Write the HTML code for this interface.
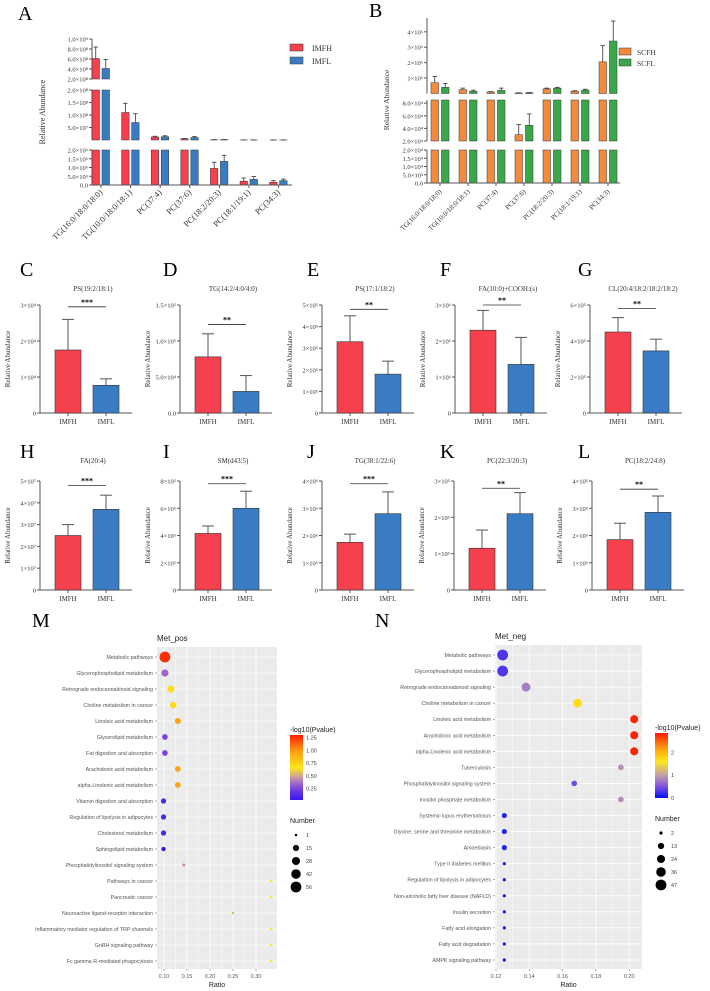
<!DOCTYPE html>
<html><head><meta charset="utf-8">
<style>
html,body{margin:0;padding:0;background:#fff;}
svg{display:block;}
.serif{font-family:"Liberation Serif",serif;}
.sans{font-family:"Liberation Sans",sans-serif;}
</style></head>
<body>
<svg id="fig" width="710" height="991" viewBox="0 0 710 991" xmlns="http://www.w3.org/2000/svg"></svg>
<script>
// ---------- Panel A data ----------
const aCats = ["TG(16:0/18:0/18:0)","TG(10:0/18:0/18:1)","PC(37:4)","PC(37:6)","PC(18:2/20:3)","PC(18:1/19:1)","PC(34:3)"];
const aIMFH = [6.1e8, 1.1e8, 1.2e7, 5e6, 9.5e5, 2.2e5, 1.6e5];
const aIMFHerr = [8.4e8, 1.47e8, 1.5e7, 6e6, 1.3e6, 4.0e5, 2.5e5];
const aIMFL = [4.1e8, 7.0e7, 1.3e7, 1.0e7, 1.35e6, 3.2e5, 2.5e5];
const aIMFLerr = [5.9e8, 1.05e8, 1.7e7, 1.4e7, 1.7e6, 4.8e5, 3.4e5];
const aTopTicks = ["2.0×10⁸","4.0×10⁸","6.0×10⁸","8.0×10⁸","1.0×10⁹"];
const aMidTicks = ["5.0×10⁷","1.0×10⁸","1.5×10⁸","2.0×10⁸"];
const aBotTicks = ["0.0","5.0×10⁵","1.0×10⁶","1.5×10⁶","2.0×10⁶"];
// ---------- Panel B data ----------
const bCats = aCats;
const bSCFH = [7e5, 2.5e5, 1.0e5, 3.0e4, 3.0e5, 1.5e5, 2.05e6];
const bSCFHerr = [1.1e6, 3.5e5, 1.2e5, 4.6e4, 3.5e5, 1.8e5, 3.1e6];
const bSCFL = [4e5, 1.5e5, 2.0e5, 4.5e4, 3.5e5, 2.2e5, 3.4e6];
const bSCFLerr = [6.5e5, 2.2e5, 3.5e5, 6.3e4, 4.0e5, 2.8e5, 4.7e6];
const bTopTicks = ["1×10⁶","2×10⁶","3×10⁶","4×10⁶"];
const bMidTicks = ["2.0×10⁴","4.0×10⁴","6.0×10⁴","8.0×10⁴"];
const bBotTicks = ["0.0","5.0×10³","1.0×10⁴","1.5×10⁴","2.0×10⁴"];
// ---------- Panels C-L data ----------
const smallLetters = ["C","D","E","F","G","H","I","J","K","L"];
const smallTitles = ["PS(19:2/18:1)","TG(14:2/4:0/4:0)","PS(17:1/18:2)","FA(10:0)+COOH:(s)","CL(20:4/18:2/18:2/18:2)","FA(20:4)","SM(d43:5)","TG(38:1/22:6)","PC(22:3/20:3)","PC(18:2/24:8)"];
const smallMax = [3e4,1.5e5,5e5,3e6,6e5,5e7,8e5,4e6,3e5,4e5];
const smallH = [1.75e4,7.8e4,3.3e5,2.3e6,4.5e5,2.5e7,4.15e5,1.75e6,1.15e5,1.85e5];
const smallHerr = [2.6e4,1.1e5,4.5e5,2.85e6,5.3e5,3.0e7,4.7e5,2.05e6,1.65e5,2.45e5];
const smallL = [7.7e3,3.0e4,1.8e5,1.35e6,3.45e5,3.7e7,6.0e5,2.8e6,2.1e5,2.85e5];
const smallLerr = [9.5e3,5.2e4,2.4e5,2.1e6,4.1e5,4.35e7,7.25e5,3.6e6,2.68e5,3.45e5];
const smallSig = ["***","**","**","**","**","***","***","***","**","**"];
const smallSigLevel = [2.95e4,1.23e5,4.8e5,3.0e6,5.8e5,4.8e7,7.8e5,3.9e6,2.8e5,3.7e5];
const smallTicks = [
 ["0","1×10⁴","2×10⁴","3×10⁴"],
 ["0.0","5.0×10⁴","1.0×10⁵","1.5×10⁵"],
 ["0","1×10⁵","2×10⁵","3×10⁵","4×10⁵","5×10⁵"],
 ["0","1×10⁶","2×10⁶","3×10⁶"],
 ["0","2×10⁵","4×10⁵","6×10⁵"],
 ["0","1×10⁷","2×10⁷","3×10⁷","4×10⁷","5×10⁷"],
 ["0","2×10⁵","4×10⁵","6×10⁵","8×10⁵"],
 ["0","1×10⁶","2×10⁶","3×10⁶","4×10⁶"],
 ["0","1×10⁵","2×10⁵","3×10⁵"],
 ["0","1×10⁵","2×10⁵","3×10⁵","4×10⁵"]];
// ---------- Panel M data ----------
const mTerms = ["Metabolic pathways","Glycerophospholipid metabolism","Retrograde endocannabinoid signaling","Choline metabolism in cancer","Linoleic acid metabolism","Glycerolipid metabolism","Fat digestion and absorption","Arachidonic acid metabolism","alpha-Linolenic acid metabolism","Vitamin digestion and absorption","Regulation of lipolysis in adipocytes","Cholesterol metabolism","Sphingolipid metabolism","Phosphatidylinositol signaling system","Pathways in cancer","Pancreatic cancer","Neuroactive ligand-receptor interaction","Inflammatory mediator regulation of TRP channels","GnRH signaling pathway","Fc gamma R-mediated phagocytosis"];
const mRatio = [0.102,0.102,0.115,0.12,0.13,0.102,0.102,0.13,0.13,0.099,0.099,0.099,0.099,0.143,0.333,0.333,0.25,0.333,0.333,0.333];
const mNumber = [56,22,20,17,14,12,12,13,13,10,10,10,6,2,1,1,1,1,1,1];
const mP = [1.25,0.35,0.7,0.72,0.95,0.25,0.25,0.95,0.95,0.12,0.12,0.12,0.02,0.45,0.65,0.65,0.55,0.65,0.65,0.65];
const mXTicks = [0.10,0.15,0.20,0.25,0.30];
const mCbTicks = [0.25,0.50,0.75,1.00,1.25];
const mSizeTicks = [1,15,28,42,56];
// ---------- Panel N data ----------
const nTerms = ["Metabolic pathways","Glycerophospholipid metabolism","Retrograde endocannabinoid signaling","Choline metabolism in cancer","Linoleic acid metabolism","Arachidonic acid metabolism","alpha-Linolenic acid metabolism","Tuberculosis","Phosphatidylinositol signaling system","Inositol phosphate metabolism","Systemic lupus erythematosus","Glycine, serine and threonine metabolism","Amoebiasis","Type II diabetes mellitus","Regulation of lipolysis in adipocytes","Non-alcoholic fatty liver disease (NAFLD)","Insulin secretion","Fatty acid elongation","Fatty acid degradation","AMPK signaling pathway"];
const nRatio = [0.124,0.124,0.138,0.169,0.203,0.203,0.203,0.195,0.167,0.195,0.125,0.125,0.125,0.125,0.125,0.125,0.125,0.125,0.125,0.125];
const nNumber = [47,47,30,30,24,24,24,10,10,10,8,8,8,2,2,2,2,2,2,2];
const nP = [0.3,0.3,0.8,1.7,2.8,2.8,2.8,0.9,0.45,0.9,0.15,0.15,0.15,0.05,0.05,0.05,0.05,0.05,0.05,0.05];
const nXTicks = [0.12,0.14,0.16,0.18,0.20];
const nCbTicks = [0,1,2];
const nSizeTicks = [2,13,24,36,47];

const NS="http://www.w3.org/2000/svg";
const fig=document.getElementById('fig');
function mk(tag, attrs, parent){const e=document.createElementNS(NS,tag);for(const k in attrs)e.setAttribute(k,attrs[k]);(parent||fig).appendChild(e);return e;}
function txt(s, attrs, parent){const e=mk('text',attrs,parent);e.textContent=s;return e;}
const RED="#f5404e", BLUE="#3a7cc3", ORANGE="#f58a3c", GREEN="#3aa84a", AX="#555";

// ===== Panel A =====
(function(){
 const g=mk('g',{});
 
 
 const lab=txt("A",{x:18,y:20,'font-size':20,class:'serif'},g);
 
 
 const ax=92, xEnd=292;
 const segs=[{lo:2e8,hi:1e9,y0:79,y1:39,ticks:aTopTicks,vals:[2e8,4e8,6e8,8e8,1e9]},
             {lo:0,hi:2e8,y0:140,y1:90,ticks:aMidTicks,vals:[5e7,1e8,1.5e8,2e8]},
             {lo:0,hi:2e6,y0:185,y1:150,ticks:aBotTicks,vals:[0,5e5,1e6,1.5e6,2e6]}];
 segs.forEach((s,si)=>{
  const ys=v=>s.y0-(v-s.lo)/(s.hi-s.lo)*(s.y0-s.y1);
  const l=mk('line',{x1:ax,x2:ax,y1:s.y1,y2:s.y0+(si==1?-1:0),stroke:AX,'stroke-width':1},g);
  
  
  s.vals.forEach((v,i)=>{
   mk('line',{x1:ax-3,x2:ax,y1:ys(v),y2:ys(v),stroke:AX},g);
   const t=txt(s.ticks[i],{x:ax-4,y:ys(v)+2.5,'font-size':6.5,'text-anchor':'end',class:'serif',fill:'#333'},g);
   
   
  });
  aCats.forEach((c,i)=>{
   const x0=92+29.6*i;
   [[aIMFH[i],aIMFHerr[i],RED,x0],[aIMFL[i],aIMFLerr[i],BLUE,x0+10]].forEach(([v,e,col,x])=>{
    if(v<=s.lo) return;
    const top=ys(Math.min(v,s.hi));
    const r=mk('rect',{x:x,y:top,width:7.5,height:s.y0-top,fill:col,stroke:'#333','stroke-width':0.5},g);
    
    
    if(v<s.hi && v>s.lo){
     const ey=ys(Math.min(e,s.hi));
     mk('line',{x1:x+3.75,x2:x+3.75,y1:top,y2:ey,stroke:'#333','stroke-width':0.8},g);
     mk('line',{x1:x+1.5,x2:x+6,y1:ey,y2:ey,stroke:'#333','stroke-width':0.8},g);
    }
   });
  });
 });
 mk('line',{x1:ax,x2:xEnd,y1:185,y2:185,stroke:AX},g);
 aCats.forEach((c,i)=>{
  const tx=92+29.6*i+9;
  mk('line',{x1:tx,x2:tx,y1:185,y2:188,stroke:AX},g);
  const t=txt(c,{x:tx+2,y:193,'font-size':8.5,'text-anchor':'end',class:'serif',fill:'#333',transform:`rotate(-45 ${tx+2} 193)`},g);
  
  
 });
 const yt=txt("Relative  Abundance",{x:0,y:0,'font-size':8,'text-anchor':'middle',class:'serif',fill:'#333',transform:'translate(45 112) rotate(-90)'},g);
 
 
 [["IMFH",RED,44],["IMFL",BLUE,57]].forEach(([n,c,y])=>{
  const r=mk('rect',{x:290,y:y,width:13,height:7,fill:c,stroke:'#333','stroke-width':0.5},g);
  
  
  const t=txt(n,{x:312,y:y+7,'font-size':8,class:'serif',fill:'#333'},g);
  
  
 });
})();

// ===== Panel B =====
(function(){
 const g=mk('g',{});
 
 
 const lab=txt("B",{x:369,y:17,'font-size':20,class:'serif'},g);
 
 
 const ax=427, xEnd=620;
 const segs=[{lo:0,hi:4.7e6,y0:93.5,y1:21,ticks:bTopTicks,vals:[1e6,2e6,3e6,4e6],axTop:18},
             {lo:2e4,hi:8.5e4,y0:141,y1:100,ticks:bMidTicks,vals:[2e4,4e4,6e4,8e4],axTop:100},
             {lo:0,hi:2e4,y0:183,y1:150,ticks:bBotTicks,vals:[0,5e3,1e4,1.5e4,2e4],axTop:150}];
 segs.forEach((s,si)=>{
  const ys=v=>s.y0-(v-s.lo)/(s.hi-s.lo)*(s.y0-s.y1);
  const l=mk('line',{x1:ax,x2:ax,y1:s.axTop,y2:s.y0,stroke:AX},g);
  
  
  s.vals.forEach((v,i)=>{
   mk('line',{x1:ax-3,x2:ax,y1:ys(v),y2:ys(v),stroke:AX},g);
   const t=txt(s.ticks[i],{x:ax-4,y:ys(v)+2.5,'font-size':6.5,'text-anchor':'end',class:'serif',fill:'#333'},g);
   
   
  });
  bCats.forEach((c,i)=>{
   const x0=431+28*i;
   [[bSCFH[i],bSCFHerr[i],ORANGE,x0],[bSCFL[i],bSCFLerr[i],GREEN,x0+10.5]].forEach(([v,e,col,x])=>{
    if(v<=s.lo) return;
    const top=ys(Math.min(v,s.hi));
    const r=mk('rect',{x:x,y:top,width:7.5,height:s.y0-top,fill:col,stroke:'#333','stroke-width':0.5},g);
    
    
    if(v<s.hi){
     const ey=ys(Math.min(e,s.hi));
     mk('line',{x1:x+3.75,x2:x+3.75,y1:top,y2:ey,stroke:'#333','stroke-width':0.8},g);
     mk('line',{x1:x+1.5,x2:x+6,y1:ey,y2:ey,stroke:'#333','stroke-width':0.8},g);
    }
   });
  });
 });
 mk('line',{x1:ax,x2:xEnd,y1:183,y2:183,stroke:AX},g);
 bCats.forEach((c,i)=>{
  const tx=431+28*i+9;
  mk('line',{x1:tx,x2:tx,y1:183,y2:186,stroke:AX},g);
  const t=txt(c,{x:tx+2,y:192,'font-size':7,'text-anchor':'end',class:'serif',fill:'#333',transform:`rotate(-45 ${tx+2} 192)`},g);
  
  
 });
 const yt=txt("Relative  Abundance",{x:0,y:0,'font-size':7.5,'text-anchor':'middle',class:'serif',fill:'#333',transform:'translate(389 100) rotate(-90)'},g);
 
 
 [["SCFH",ORANGE,48],["SCFL",GREEN,59]].forEach(([n,c,y])=>{
  const r=mk('rect',{x:619,y:y,width:12,height:7,fill:c,stroke:'#333','stroke-width':0.5},g);
  
  
  const t=txt(n,{x:637,y:y+7,'font-size':7.5,class:'serif',fill:'#333'},g);
  
  
 });
})();

// ===== Panels C-L =====
const smallAx=[40,180,322,455,590,40,180,322,454,592];
smallLetters.forEach((L,i)=>{
 const row=i<5?0:1;
 const ax=smallAx[i];
 const yTop=row?481:305, yBot=row?590:413;
 const g=mk('g',{});
 
 
 const letterX=[20,163,307,440,578][i%5];
 const lt=txt(L,{x:letterX,y:row?458:276,'font-size':20,class:'serif'},g);
 
 
 const tt=txt(smallTitles[i],{x:ax+53,y:row?463:291,'font-size':7,'text-anchor':'middle',class:'serif',fill:'#333'},g);
 
 
 const ys=v=>yBot-v/smallMax[i]*(yBot-yTop);
 mk('line',{x1:ax,x2:ax,y1:yTop,y2:yBot,stroke:AX},g);
 mk('line',{x1:ax,x2:ax+92,y1:yBot,y2:yBot,stroke:AX},g);
 const ticks=smallTicks[i];
 ticks.forEach((s,k)=>{
  const v=smallMax[i]*k/(ticks.length-1);
  mk('line',{x1:ax-3,x2:ax,y1:ys(v),y2:ys(v),stroke:AX},g);
  const t=txt(s,{x:ax-4,y:ys(v)+2.5,'font-size':6.5,'text-anchor':'end',class:'serif',fill:'#333'},g);
  
  
 });
 [[smallH[i],smallHerr[i],RED,ax+15,"IMFH"],[smallL[i],smallLerr[i],BLUE,ax+53,"IMFL"]].forEach(([v,e,col,x,n])=>{
  mk('line',{x1:x+13,x2:x+13,y1:ys(v),y2:ys(e),stroke:'#555','stroke-width':1},g);
  mk('line',{x1:x+7,x2:x+19,y1:ys(e),y2:ys(e),stroke:'#555','stroke-width':1},g);
  const r=mk('rect',{x:x,y:ys(v),width:26,height:yBot-ys(v),fill:col,stroke:'#333','stroke-width':0.6},g);
  
  
  mk('line',{x1:x+13,x2:x+13,y1:yBot,y2:yBot+3,stroke:AX},g);
  const xl=txt(n,{x:x+13,y:yBot+11,'font-size':7,'text-anchor':'middle',class:'serif',fill:'#333'},g);
  
  
 });
 const sy=ys(smallSigLevel[i]);
 mk('line',{x1:ax+28,x2:ax+66,y1:sy,y2:sy,stroke:'#333','stroke-width':0.8},g);
 const st=txt(smallSig[i],{x:ax+47,y:sy-2,'font-size':8,'font-weight':'bold','text-anchor':'middle',class:'serif'},g);
 
 
 const yt=txt("Relative Abundance",{x:0,y:0,'font-size':7,'text-anchor':'middle',class:'serif',fill:'#333',transform:`translate(${ax-30} ${(yTop+yBot)/2}) rotate(-90)`},g);
 
 
});

// ===== Dot plots =====
function lerp(a,b,t){return a+(b-a)*t;}
function hex(c){return [parseInt(c.slice(1,3),16),parseInt(c.slice(3,5),16),parseInt(c.slice(5,7),16)];}
function colorAt(stops,v){
 if(v<=stops[0][0])return stops[0][1];
 for(let i=1;i<stops.length;i++){if(v<=stops[i][0]){const t=(v-stops[i-1][0])/(stops[i][0]-stops[i-1][0]);const a=hex(stops[i-1][1]),b=hex(stops[i][1]);return `rgb(${a.map((x,k)=>Math.round(lerp(x,b[k],t))).join(',')})`;}}
 return stops[stops.length-1][1];
}
function dotPlot(cfg){
 const g=mk('g',{});
 
 
 const lt=txt(cfg.letter,{x:cfg.lx,y:cfg.ly,'font-size':20,class:'serif'},g);
 
 
 const tt=txt(cfg.title,{x:cfg.x0,y:cfg.y0-6,'font-size':8,class:'sans',fill:'#222'},g);
 
 
 const bg=mk('rect',{x:cfg.x0,y:cfg.y0,width:cfg.x1-cfg.x0,height:cfg.y1-cfg.y0,fill:'#ebebeb'},g);
 
 
 const xs=r=>cfg.xa+(r-cfg.ticks[0])*cfg.xk;
 const n=cfg.terms.length;
 const yr=i=>cfg.ry0+i*(cfg.ry1-cfg.ry0)/(n-1);
 cfg.ticks.forEach((t,k)=>{
  mk('line',{x1:xs(t),x2:xs(t),y1:cfg.y0,y2:cfg.y1,stroke:'#fff','stroke-width':0.8},g);
  if(k<cfg.ticks.length-1){const m=(t+cfg.ticks[k+1])/2;mk('line',{x1:xs(m),x2:xs(m),y1:cfg.y0,y2:cfg.y1,stroke:'#fff','stroke-width':0.4},g);}
  mk('line',{x1:xs(t),x2:xs(t),y1:cfg.y1,y2:cfg.y1+2,stroke:'#555','stroke-width':0.5},g);
  const tl=txt(t.toFixed(2),{x:xs(t),y:cfg.y1+9,'font-size':5.5,'text-anchor':'middle',class:'sans',fill:'#555'},g);
  
  
 });
 const xt=txt("Ratio",{x:(cfg.x0+cfg.x1)/2,y:cfg.y1+18,'font-size':7,'text-anchor':'middle',class:'sans',fill:'#222'},g);
 
 
 const rad=v=>Math.sqrt(v/cfg.sizeMax)*cfg.rMax+0.6;
 cfg.terms.forEach((term,i)=>{
  mk('line',{x1:cfg.x0,x2:cfg.x1,y1:yr(i),y2:yr(i),stroke:'#fff','stroke-width':0.8},g);
  mk('line',{x1:cfg.x0-2,x2:cfg.x0,y1:yr(i),y2:yr(i),stroke:'#555','stroke-width':0.5},g);
  const tl=txt(term,{x:cfg.x0-4,y:yr(i)+2,'font-size':5.3,'text-anchor':'end',class:'sans',fill:'#555'},g);
  
  
 });
 cfg.terms.forEach((term,i)=>{
  const c=mk('circle',{cx:xs(cfg.ratio[i]),cy:yr(i),r:rad(cfg.number[i]),fill:colorAt(cfg.stops,cfg.p[i])},g);
  
  
 });
 const lgx=cfg.lgx;
 const ct=txt("-log10(Pvalue)",{x:lgx,y:cfg.cbTop-3,'font-size':7,class:'sans',fill:'#222'},g);
 
 
 const gid=cfg.name+'-grad';
 const defs=mk('defs',{},g);
 const lg=mk('linearGradient',{id:gid,x1:0,y1:1,x2:0,y2:0},defs);
 for(let k=0;k<=20;k++){const v=cfg.cbMin+(cfg.cbMax-cfg.cbMin)*k/20;mk('stop',{offset:k/20,'stop-color':colorAt(cfg.stops,v)},lg);}
 const cb=mk('rect',{x:lgx,y:cfg.cbTop,width:13,height:cfg.cbBot-cfg.cbTop,fill:`url(#${gid})`},g);
 
 
 const cy=v=>cfg.cbBot-(v-cfg.cbMin)/(cfg.cbMax-cfg.cbMin)*(cfg.cbBot-cfg.cbTop);
 cfg.cbTicks.forEach(v=>{
  const t=txt(cfg.cbFmt(v),{x:lgx+16,y:cy(v)+2,'font-size':5.5,class:'sans',fill:'#444'},g);
  
  
 });
 const nt=txt("Number",{x:lgx,y:cfg.nTop,'font-size':7,class:'sans',fill:'#222'},g);
 
 
 cfg.sizeTicks.forEach((v,k)=>{
  const y=cfg.nTop+12+k*13;
  const c=mk('circle',{cx:lgx+6,cy:y,r:rad(v),fill:'#000'},g);
  
  
  const t=txt(String(v),{x:lgx+16,y:y+2,'font-size':5.5,class:'sans',fill:'#444'},g);
  
  
 });
}
dotPlot({name:'panel-m',letter:'M',lx:32,ly:627,title:'Met_pos',x0:157,x1:277,y0:647,y1:969,xa:164,xk:460,ticks:mXTicks,ry0:657,ry1:961,
 terms:mTerms,ratio:mRatio,number:mNumber,p:mP,sizeMax:56,rMax:4.8,
 stops:[[0,'#2a10f0'],[0.25,'#7a40e0'],[0.45,'#c090b0'],[0.65,'#ffe81a'],[1.0,'#ff9a10'],[1.3,'#ff1a00']],
 lgx:290,cbTop:735,cbBot:800,cbMin:0.03,cbMax:1.3,cbTicks:mCbTicks,cbFmt:v=>v.toFixed(2),nTop:823,sizeTicks:mSizeTicks});
dotPlot({name:'panel-n',letter:'N',lx:375,ly:627,title:'Met_neg',x0:495,x1:642,y0:645,y1:969,xa:496,xk:1665,ticks:nXTicks,ry0:655,ry1:960,
 terms:nTerms,ratio:nRatio,number:nNumber,p:nP,sizeMax:47,rMax:4.8,
 stops:[[0,'#0010ff'],[0.5,'#8050e0'],[1.0,'#c0a0a8'],[1.6,'#ffe81a'],[2.2,'#ff9a10'],[2.85,'#ff1a00']],
 lgx:655,cbTop:733,cbBot:798,cbMin:0,cbMax:2.85,cbTicks:nCbTicks,cbFmt:v=>String(v),nTop:821,sizeTicks:nSizeTicks});
</script>
</body></html>
